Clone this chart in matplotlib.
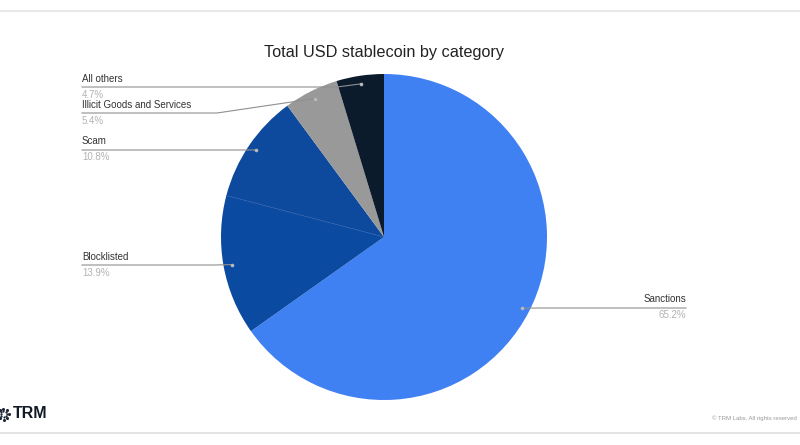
import numpy as np
import matplotlib
matplotlib.use("Agg")
import matplotlib.pyplot as plt
from matplotlib.lines import Line2D

plt.rcParams['font.family'] = ['Liberation Sans', 'DejaVu Sans']

# ---- data ----
categories = ["Sanctions", "Blocklisted", "Scam", "Illicit Goods and Services", "All others"]
shares = [65.2, 13.9, 10.8, 5.4, 4.7]
pct_labels = ["65.2%", "13.9%", "10.8%", "5.4%", "4.7%"]
colors = ["#3f80f3", "#0b4aa1", "#0d4a9d", "#999999", "#0c1b2b"]
title = "Total USD stablecoin by category"

W, H = 800, 445
fig = plt.figure(figsize=(W / 100, H / 100), dpi=100)
fig.patch.set_facecolor("white")

def fxy(x, y):
    return (x / W, 1 - y / H)

# pie axes (pixel layout)
cx, cy, R = 384, 237, 163
ax = fig.add_axes([(cx - R) / W, (H - cy - R) / H, 2 * R / W, 2 * R / H])
wedges, _ = ax.pie(shares, colors=colors, startangle=90, counterclock=False,
                   wedgeprops=dict(linewidth=0))
ax.set_xlim(-1, 1)
ax.set_ylim(-1, 1)
ax.set_aspect("equal")
ax.axis("off")

# faint boundary between the two dark-blue slices
th = np.deg2rad(wedges[1].theta1)
ax.plot([0, np.cos(th)], [0, np.sin(th)], color="#2a5bab", lw=0.5)

fig.text(*fxy(384, 52), title, ha="center", va="center", fontsize=11.7, color="#222222")

# leader layout: (side, line_y px, elbow_x px)
layout = {
    "All others": ("left", 87, 337),
    "Illicit Goods and Services": ("left", 113, 217),
    "Scam": ("left", 150, 240),
    "Blocklisted": ("left", 265, 215),
    "Sanctions": ("right", 308, 540),
}
left_x, right_x = 82, 686

fig.canvas.draw()
for w, cat, pct in zip(wedges, categories, pct_labels):
    mid = np.deg2rad((w.theta1 + w.theta2) / 2)
    dx, dy = 0.95 * np.cos(mid), 0.95 * np.sin(mid)
    px, py = ax.transData.transform((dx, dy))
    dot = (px, H - py)
    side, ly, ex = layout[cat]
    tx = left_x if side == "left" else right_x
    xs = [tx, ex, dot[0]]
    ys = [ly, ly, dot[1]]
    fx = [x / W for x in xs]
    fy = [1 - y / H for y in ys]
    fig.add_artist(Line2D(fx, fy, color="#8f8f8f", lw=0.8, transform=fig.transFigure))
    fig.add_artist(Line2D([dot[0] / W], [1 - dot[1] / H], marker="o", markersize=2.6,
                          color="#b8b8b8", markeredgewidth=0, transform=fig.transFigure))
    ha = "left" if side == "left" else "right"
    fig.text(*fxy(tx, ly - 3.5), cat, ha=ha, va="bottom", fontsize=7, color="#333333")
    fig.text(*fxy(tx, ly + 2.5), pct, ha=ha, va="top", fontsize=7, color="#b3b3b3")

# frame lines
fig.add_artist(Line2D([0, 1], [1 - 10.5 / H] * 2, color="#e8e8e8", lw=1.6, transform=fig.transFigure))
fig.add_artist(Line2D([0, 1], [1 - 433 / H] * 2, color="#e3e3e3", lw=1.4, transform=fig.transFigure))

# logo
ang = np.linspace(0, 2 * np.pi, 8, endpoint=False)
lx, lyy = 3.5, 414
for a in ang:
    for rr, ms in ((3.0, 1.6), (5.5, 2.2)):
        fig.add_artist(Line2D([(lx + rr * np.cos(a)) / W], [1 - (lyy + rr * np.sin(a)) / H],
                              marker="o", markersize=ms, color="#1a2433", markeredgewidth=0,
                              transform=fig.transFigure))
fig.text(*fxy(13, 414), "TRM", ha="left", va="center", fontsize=11.5, fontweight="bold",
         color="#111a26")
fig.text(*fxy(797, 418), "© TRM Labs. All rights reserved", ha="right", va="center",
         fontsize=4.3, color="#9a9a9a")

fig.savefig("out.png", dpi=100, facecolor="white")
